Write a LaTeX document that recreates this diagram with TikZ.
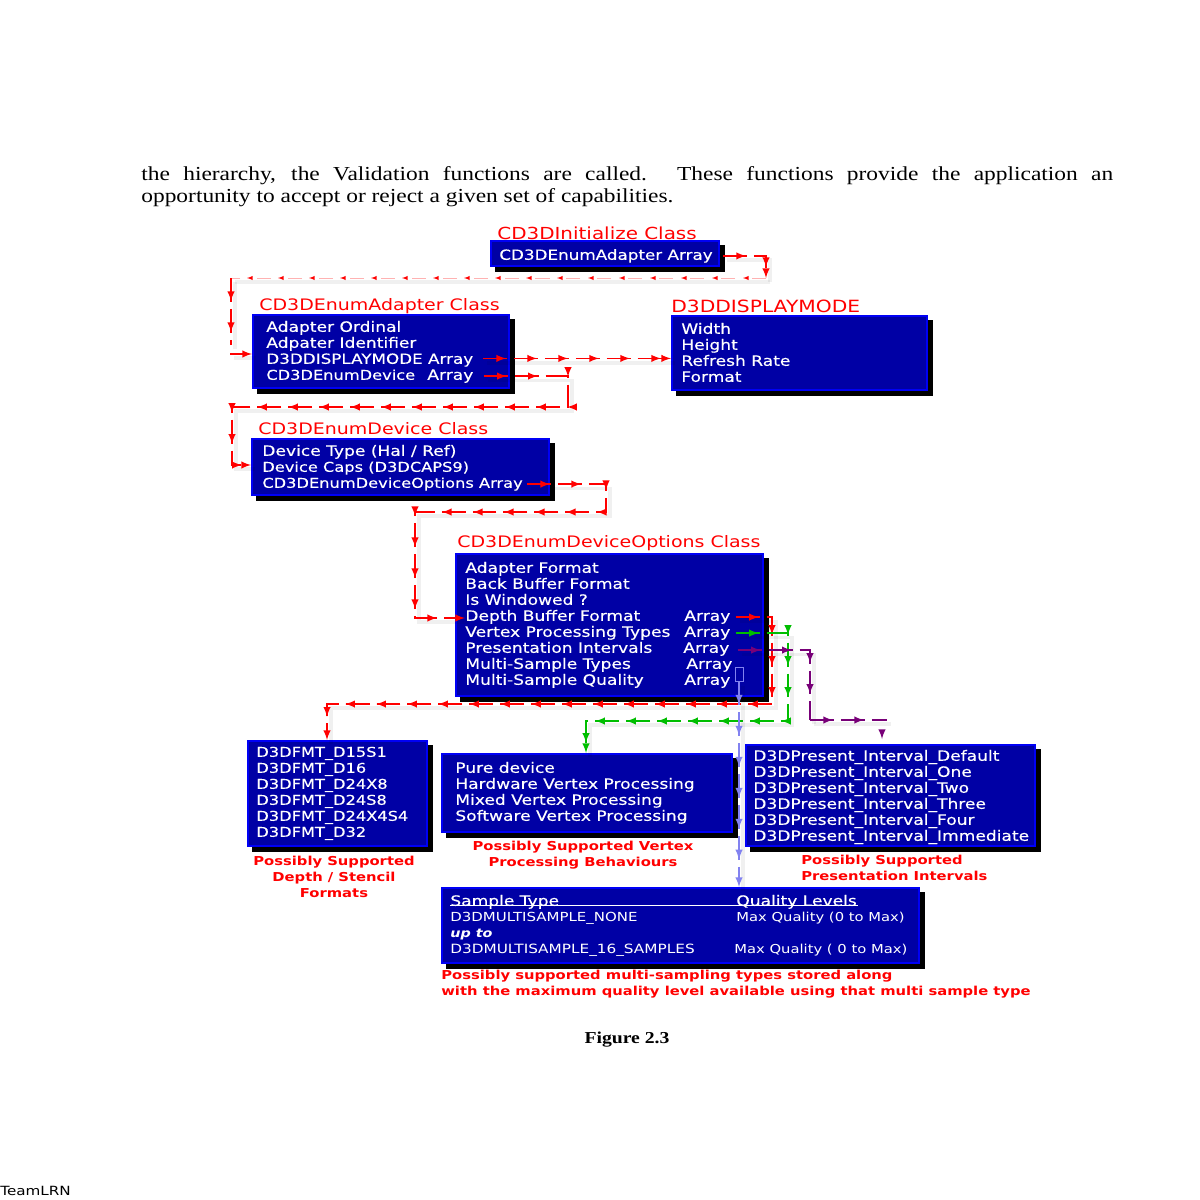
\documentclass[tikz,border=0pt]{standalone}
\usepackage{fontspec}
\setmainfont[FakeStretch=1.18]{Liberation Serif}
\setsansfont[FakeStretch=1.2]{DejaVu Sans}
\newfontfamily\rowfont[FakeStretch=1.2,FakeBold=0.25]{DejaVu Sans}
\usetikzlibrary{calc,decorations.markings}
\tikzset{>=latex}
\definecolor{myblue}{RGB}{0,0,165}
\definecolor{myedge}{RGB}{0,0,245}
\definecolor{myred}{RGB}{255,0,0}
\definecolor{mygreen}{RGB}{0,190,0}
\definecolor{mypurple}{RGB}{120,0,120}
\definecolor{mylilac}{RGB}{130,130,240}
\tikzset{
  classbox/.style = {draw = myedge, fill = myblue, line width = 1.1pt, inner sep = 0pt, anchor = north west},
  boxshadow/.style = {fill = black},
  rowtext/.style = {text = white, inner sep = 0pt, anchor = base west, yshift = -3.3pt, font = \rowfont\fontsize{8.1}{9}\selectfont},
  caprow/.style = {rowtext, font = \rowfont\fontsize{7.7}{9}\selectfont},
  thintext/.style = {rowtext, font = \sffamily\fontsize{7.1}{9}\selectfont},
  classtitle/.style = {text = myred, inner sep = 0pt, anchor = base west, yshift = -3.9pt, font = \sffamily\fontsize{9.0}{11}\selectfont},
  redcaption/.style = {text = myred, inner sep = 0pt, font = \sffamily\bfseries\fontsize{7.0}{9}\selectfont},
  baseflow/.style = {line width = 0.9pt, dash pattern = on 13.6pt off 4pt,
    preaction = {draw = black, draw opacity = 0.06, line width = 2.2pt, solid, arrows = -, transform canvas = {xshift = 2.5pt, yshift = -2.5pt}},
    postaction = {decorate}},
  flowline/.style = {baseflow, decoration = {markings, mark = between positions 0.46cm and 1 step 0.62cm with {\arrow{>}}}},
  fadeline/.style = {baseflow, line width = 0.4pt, draw opacity = 0.3, dash pattern = on 8pt off 9.6pt,
    decoration = {markings, mark = between positions 0.46cm and 1 step 0.62cm with {\arrow[scale = 0.8]{>}}}}
}
\begin{document}
\begin{tikzpicture}[x = 0.02cm, y = -0.02cm]
\useasboundingbox (0,0) rectangle (1200,1200);
\fill[white] (0,0) rectangle (1200,1200);
\node[text width = 19.44cm, align = justify, inner sep = 0pt, anchor = north west, font = \fontsize{11.3}{12.5}\selectfont] (intro) at (141,166) {the hierarchy, the Validation functions are called. These functions provide the application an\linebreak opportunity to accept or reject a given set of capabilities.};

\fill[boxshadow] (495,245) rectangle (725,272);
\fill[boxshadow] (257,319) rectangle (515,394);
\fill[boxshadow] (676,320) rectangle (933,396);
\fill[boxshadow] (256,443) rectangle (555,501);
\fill[boxshadow] (460,558) rectangle (769,702);
\fill[boxshadow] (252,745) rectangle (433,852);
\fill[boxshadow] (446,758) rectangle (738,838);
\fill[boxshadow] (750,749) rectangle (1041,852);
\fill[boxshadow] (446,892) rectangle (925,969);

\node[classbox, minimum width = 4.56cm, minimum height = 0.5cm] (initbox) at (490,240) {};
\node[classbox, minimum width = 5.12cm, minimum height = 1.46cm] (adapterbox) at (252,314) {};
\node[classbox, minimum width = 5.1cm, minimum height = 1.48cm] (displaybox) at (671,315) {};
\node[classbox, minimum width = 5.94cm, minimum height = 1.12cm] (devicebox) at (251,438) {};
\node[classbox, minimum width = 6.14cm, minimum height = 2.84cm] (optionsbox) at (455,553) {};
\node[classbox, minimum width = 3.58cm, minimum height = 2.1cm] (depthbox) at (247,740) {};
\node[classbox, minimum width = 5.8cm, minimum height = 1.56cm] (vertexbox) at (441,753) {};
\node[classbox, minimum width = 5.78cm, minimum height = 2.02cm] (presentbox) at (745,744) {};
\node[classbox, minimum width = 9.54cm, minimum height = 1.5cm] (samplebox) at (441,887) {};

\node[classtitle, font = \sffamily\fontsize{9.45}{11}\selectfont] (inittitle) at (497,233) {CD3DInitialize Class};
\node[classtitle] (adaptertitle) at (259,304) {CD3DEnumAdapter Class};
\node[classtitle, font = \sffamily\fontsize{9.6}{11}\selectfont] (displaytitle) at (671,306) {D3DDISPLAYMODE};
\node[classtitle] (devicetitle) at (258,428) {CD3DEnumDevice Class};
\node[classtitle] (optionstitle) at (457,541) {CD3DEnumDeviceOptions Class};

\node[caprow, font = \rowfont\fontsize{7.95}{9}\selectfont] (initrow) at (499,254) {CD3DEnumAdapter Array};

\node[rowtext] (ordinalrow) at (266,326) {Adapter Ordinal};
\node[rowtext] (identrow) at (266,342) {Adpater Identifier};
\node[caprow, font = \rowfont\fontsize{7.95}{9}\selectfont] (moderow) at (266,358) {D3DDISPLAYMODE Array};
\node[caprow] (devicerow) at (266,374) {CD3DEnumDevice};
\node[rowtext] (devicearr) at (427,374) {Array};

\node[rowtext] (widthrow) at (681,328) {Width};
\node[rowtext] (heightrow) at (681,344) {Height};
\node[rowtext] (refreshrow) at (681,360) {Refresh Rate};
\node[rowtext] (formatrow) at (681,376) {Format};

\node[rowtext] (typerow) at (262,450) {Device Type (Hal / Ref)};
\node[caprow] (capsrow) at (262,466) {Device Caps (D3DCAPS9)};
\node[caprow] (optionsrow) at (262,482) {CD3DEnumDeviceOptions Array};

\node[rowtext] (adfmtrow) at (465,567) {Adapter Format};
\node[rowtext] (backrow) at (465,583) {Back Buffer Format};
\node[rowtext] (windowrow) at (465,599) {Is Windowed ?};
\node[rowtext] (depthrow) at (465,615) {Depth Buffer Format};
\node[rowtext] (vprow) at (465,631) {Vertex Processing Types};
\node[rowtext] (intervalrow) at (465,647) {Presentation Intervals};
\node[rowtext] (msrow) at (465,663) {Multi-Sample Types};
\node[rowtext] (qualityrow) at (465,679) {Multi-Sample Quality};
\node[rowtext] (deptharr) at (684,615) {Array};
\node[rowtext] (vparr) at (684,631) {Array};
\node[rowtext] (intervalarr) at (683,647) {Array};
\node[rowtext] (msarr) at (686,663) {Array};
\node[rowtext] (qualityarr) at (684,679) {Array};

\node[caprow] (fmta) at (256,751) {D3DFMT\_D15S1};
\node[caprow] (fmtb) at (256,767) {D3DFMT\_D16};
\node[caprow] (fmtc) at (256,783) {D3DFMT\_D24X8};
\node[caprow] (fmtd) at (256,799) {D3DFMT\_D24S8};
\node[caprow] (fmte) at (256,815) {D3DFMT\_D24X4S4};
\node[caprow] (fmtf) at (256,831) {D3DFMT\_D32};

\node[rowtext] (purerow) at (455,767) {Pure device};
\node[rowtext] (hwrow) at (455,783) {Hardware Vertex Processing};
\node[rowtext] (mixedrow) at (455,799) {Mixed Vertex Processing};
\node[rowtext] (swrow) at (455,815) {Software Vertex Processing};

\node[rowtext] (pia) at (753,755) {D3DPresent\_Interval\_Default};
\node[rowtext] (pib) at (753,771) {D3DPresent\_Interval\_One};
\node[rowtext] (pic) at (753,787) {D3DPresent\_Interval\_Two};
\node[rowtext] (pid) at (753,803) {D3DPresent\_Interval\_Three};
\node[rowtext] (pie) at (753,819) {D3DPresent\_Interval\_Four};
\node[rowtext] (pif) at (753,835) {D3DPresent\_Interval\_Immediate};

\node[rowtext] (samplehead) at (450,900) {Sample Type};
\node[rowtext] (qualityhead) at (736,900) {Quality Levels};
\draw[white, line width = 0.6pt] (450,905.5) -- (858,905.5);
\node[thintext] (samplenone) at (450,916) {D3DMULTISAMPLE\_NONE};
\node[rowtext, font = \sffamily\itshape\bfseries\fontsize{6.8}{9}\selectfont] (sampleupto) at (450,932) {up to};
\node[thintext, font = \sffamily\fontsize{7.25}{9}\selectfont] (samplesixteen) at (450,948) {D3DMULTISAMPLE\_16\_SAMPLES};
\node[thintext, font = \sffamily\fontsize{7.0}{9}\selectfont] (maxa) at (736,916) {Max Quality (0 to Max)};
\node[thintext, font = \sffamily\fontsize{7.0}{9}\selectfont] (maxb) at (734,948) {Max Quality ( 0 to Max)};

\node[redcaption, align = center] (depthcap) at (334,877) {Possibly Supported\\Depth / Stencil\\Formats};
\node[redcaption, align = center] (vertexcap) at (583,855) {Possibly Supported Vertex\\Processing Behaviours};
\node[redcaption, align = left, anchor = north west] (presentcap) at (801,855) {Possibly Supported\\Presentation Intervals};
\node[redcaption, align = left, anchor = north west] (samplecap) at (441,970) {Possibly supported multi-sampling types stored along\\with the maximum quality level available using that multi sample type};

\node[inner sep = 0pt, font = \bfseries\fontsize{9.5}{12}\selectfont] (figcap) at (627,1040) {Figure 2.3};
\node[inner sep = 0pt, anchor = west, font = \sffamily\fontsize{7.2}{9}\selectfont] (teamlogo) at (0,1191) {TeamLRN};

\coordinate (inita) at (766,278);
\coordinate (initb) at (231,278);
\coordinate (initc) at (231,345);
\coordinate (initd) at (230,354);
\draw[flowline, myred, ->] ($(initrow.east)+(10,0)$) -| (inita);
\draw[fadeline, myred] (inita) -- (initb);
\draw[flowline, myred] (initb) -- (initc);
\draw[flowline, myred, ->] (initd) -- (adapterbox.west |- initd);

\coordinate (modeout) at (483,358.4);
\draw[flowline, myred, ->] (modeout) -- (displaybox.west |- modeout);

\coordinate (deva) at (568,407);
\coordinate (devb) at (232,407);
\coordinate (devc) at (232,465);
\draw[flowline, myred, ->] ($(devicearr.east)+(10,0)$) -| (deva) -- (devb) -- (devc) -- (devicebox.west |- devc);

\coordinate (opta) at (606,512);
\coordinate (optb) at (415,512);
\coordinate (optc) at (415,618);
\draw[flowline, myred, ->] ($(optionsrow.east)+(4,0)$) -| (opta) -- (optb) -- (optc) -- (depthrow.west |- optc);

\coordinate (reda) at (772,704);
\coordinate (redb) at (327,704);
\draw[flowline, myred, ->] ($(deptharr.east)+(5,0)$) -| (reda) -- (redb) -- (depthbox.north -| redb);

\coordinate (greena) at (788,721);
\coordinate (greenb) at (586,721);
\draw[flowline, mygreen, ->] ($(vparr.east)+(5,0)$) -| (greena) -- (greenb) -- (vertexbox.north -| greenb);

\coordinate (purplea) at (810,720);
\coordinate (purpleb) at (887,720);
\coordinate (purplec) at (882,733);
\coordinate (purpled) at (882,739);
\draw[flowline, mypurple] ($(intervalarr.east)+(8,1)$) -| (purplea);
\draw[flowline, mypurple] (purplea) -- (purpleb);
\draw[line width = 0.9pt, mypurple, ->] (purplec) -- (purpled);

\node[draw = mylilac, line width = 0.5pt, minimum width = 0.16cm, minimum height = 0.28cm, inner sep = 0pt] (multimark) at (739,674) {};
\draw[flowline, mylilac, ->] (multimark.south) -- (samplebox.north -| multimark.south);
\end{tikzpicture}
\end{document}
